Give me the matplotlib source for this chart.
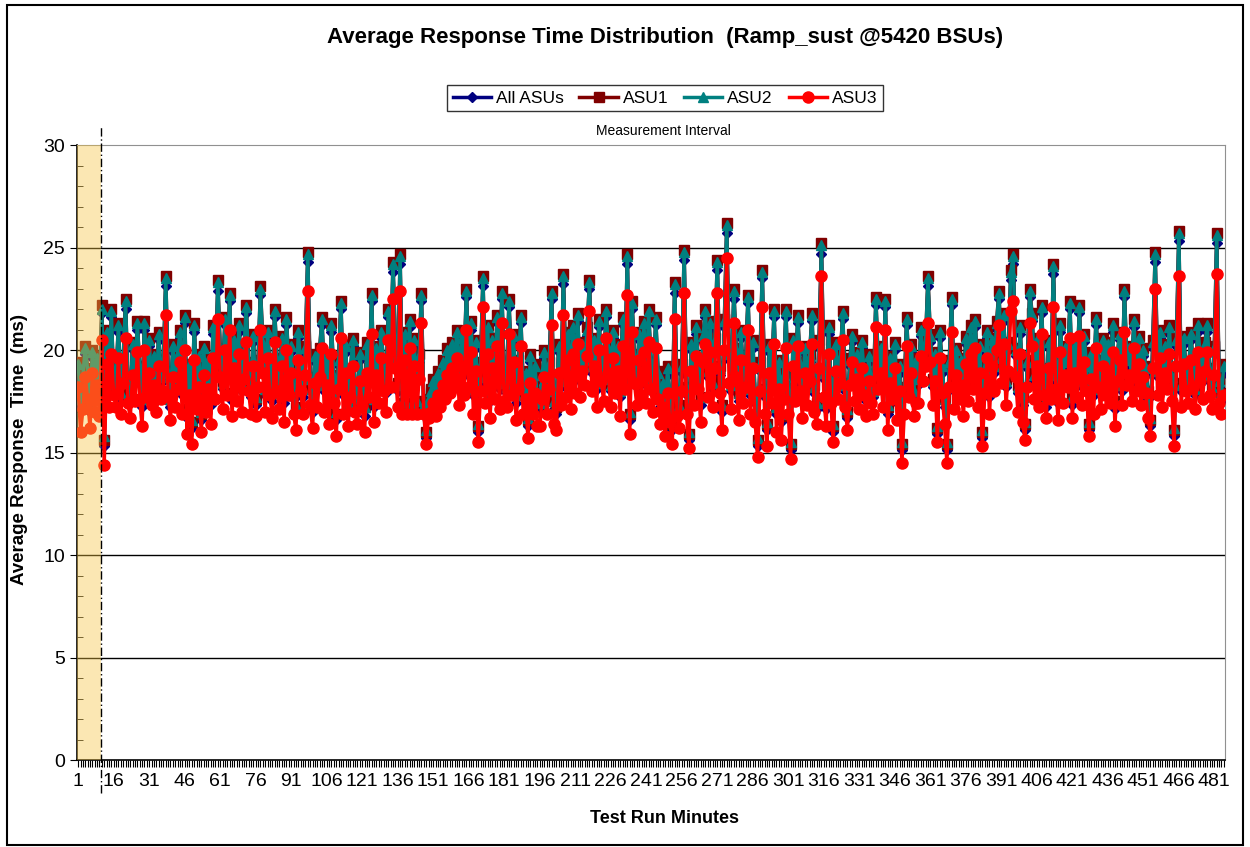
import numpy as np
import matplotlib
matplotlib.use("Agg")
import matplotlib.pyplot as plt
from matplotlib.patches import Rectangle

plt.rcParams['font.family'] = ['Liberation Sans', 'DejaVu Sans']

# ASU1 (dark red squares), one value per test-run minute
asu1 = [
    19.4, 17.6, 18.9, 20.2, 19.1, 17.3, 20.0, 18.6, 19.7, 18.1, 22.2, 15.6, 21.0, 18.4, 22.0,
    18.3, 18.8, 21.3, 17.9, 19.6, 22.5, 18.6, 17.8, 20.4, 18.9, 21.4, 19.2, 17.6, 21.4, 19.0,
    20.6, 18.4, 19.8, 17.9, 20.9, 18.8, 19.5, 23.6, 19.0, 17.6, 20.3, 18.5, 19.9, 21.0, 18.2,
    21.7, 17.1, 19.3, 16.5, 21.3, 18.6, 19.8, 16.9, 20.2, 18.3, 19.6, 17.7, 21.2, 19.1, 23.4,
    20.1, 18.5, 21.6, 19.2, 22.8, 17.9, 20.6, 19.0, 21.3, 18.4, 20.0, 22.2, 19.4, 18.1, 20.8,
    17.6, 19.5, 23.1, 20.4, 18.2, 21.0, 19.3, 17.9, 22.0, 19.6, 18.5, 20.7, 17.8, 21.6, 19.2,
    20.3, 18.0, 17.2, 21.0, 19.4, 18.1, 20.2, 24.8, 18.7, 17.3, 19.8, 18.6, 20.1, 21.6, 18.4,
    19.7, 17.5, 21.3, 18.8, 16.9, 19.6, 22.4, 18.2, 20.3, 17.4, 19.0, 20.6, 18.3, 17.6, 19.9,
    18.6, 17.2, 20.4, 19.1, 22.8, 17.6, 20.2, 18.9, 21.0, 19.4, 18.3, 22.0, 19.7, 24.3, 20.5,
    18.4, 24.7, 17.4, 20.9, 17.3, 21.5, 17.4, 20.6, 17.5, 19.8, 22.8, 17.3, 16.0, 17.6, 18.1,
    18.6, 17.9, 19.0, 18.4, 19.5, 18.9, 20.1, 19.3, 20.4, 19.7, 21.0, 18.6, 20.7, 19.2, 23.0,
    19.6, 21.4, 18.2, 20.5, 16.3, 19.4, 23.6, 18.8, 21.2, 17.9, 20.6, 19.0, 21.7, 18.5, 22.9,
    18.7, 18.3, 22.5, 19.2, 20.8, 17.8, 19.5, 21.7, 18.2, 19.0, 16.6, 19.8, 18.3, 19.3, 17.5,
    17.4, 18.9, 20.0, 18.1, 19.4, 22.9, 17.5, 17.2, 20.3, 18.6, 23.7, 19.0, 20.9, 18.4, 21.2,
    19.1, 21.8, 18.9, 20.4, 19.6, 21.1, 23.4, 19.3, 20.6, 18.5, 21.5, 19.8, 18.7, 22.0, 20.2,
    18.4, 21.0, 19.2, 20.3, 18.1, 21.6, 19.5, 24.7, 16.9, 22.4, 19.8, 18.6, 20.9, 19.1, 21.4,
    18.7, 22.0, 19.4, 18.3, 21.6, 19.0, 17.6, 18.5, 16.9, 19.2, 17.8, 16.4, 23.3, 18.0, 17.3,
    19.3, 24.9, 18.2, 15.9, 20.4, 18.6, 21.2, 19.5, 17.7, 20.8, 22.0, 19.1, 21.4, 18.5, 20.6,
    24.4, 19.2, 17.3, 21.5, 26.2, 19.9, 18.4, 23.0, 20.1, 17.9, 21.0, 18.8, 19.6, 22.7, 18.2,
    20.5, 17.8, 15.6, 19.4, 23.9, 18.1, 16.4, 20.3, 18.7, 22.0, 17.2, 19.5, 16.8, 18.9, 22.0,
    18.1, 15.4, 20.6, 18.8, 21.7, 19.4, 17.9, 20.2, 18.6, 19.8, 21.8, 18.3, 17.4, 20.5, 25.2,
    19.0, 17.5, 21.2, 18.6, 16.3, 20.4, 18.9, 19.7, 21.9, 18.4, 17.0, 19.6, 20.8, 18.7, 19.9,
    18.3, 20.5, 19.1, 17.9, 19.8, 18.6, 18.1, 22.6, 19.4, 20.2, 18.5, 22.5, 17.2, 19.7, 18.9,
    20.4, 17.8, 19.3, 15.4, 18.2, 21.6, 19.0, 20.3, 18.1, 19.6, 18.7, 21.1, 19.8, 20.5, 23.6,
    20.8, 18.6, 19.9, 16.2, 21.0, 19.3, 17.6, 15.4, 19.5, 22.6, 18.4, 20.1, 18.9, 19.6, 18.0,
    20.7, 18.8, 21.2, 19.4, 21.5, 18.5, 20.3, 16.0, 19.2, 21.0, 18.1, 20.6, 19.3, 21.4, 22.9,
    19.7, 21.8, 18.6, 20.4, 23.9, 24.7, 20.1, 18.3, 21.2, 17.7, 16.4, 19.5, 23.0, 21.8, 18.9,
    20.6, 18.4, 22.2, 19.1, 17.6, 20.5, 18.9, 24.2, 19.4, 17.8, 21.3, 18.7, 20.2, 19.5, 22.4,
    17.7, 20.3, 19.0, 22.2, 18.6, 20.8, 19.3, 16.4, 19.9, 18.2, 21.6, 19.5, 18.4, 20.6, 19.1,
    20.4, 18.7, 21.3, 17.5, 19.8, 20.9, 18.4, 23.0, 19.6, 20.2, 18.8, 21.5, 19.3, 20.7, 18.6,
    20.1, 19.2, 18.0, 16.6, 20.5, 24.8, 19.1, 21.0, 18.5, 20.3, 19.4, 21.2, 18.8, 16.1, 20.6,
    25.8, 18.4, 20.7, 19.3, 18.6, 20.9, 19.5, 18.2, 21.3, 19.8, 18.9, 20.4, 21.3, 19.1, 18.3,
    20.2, 25.7, 18.6, 17.9, 19.3,
]

# ASU2 (teal triangles)
asu2 = [
    19.3, 17.6, 18.8, 20.1, 19.0, 17.3, 19.9, 18.5, 19.6, 18.1, 22.0, 15.8, 20.9, 18.4, 21.9,
    18.2, 18.7, 21.2, 17.9, 19.5, 22.4, 18.5, 17.8, 20.3, 18.8, 21.3, 19.1, 17.6, 21.3, 18.9,
    20.5, 18.3, 19.7, 17.9, 20.8, 18.7, 19.4, 23.5, 18.9, 17.6, 20.2, 18.4, 19.8, 20.9, 18.1,
    21.6, 17.1, 19.2, 16.6, 21.2, 18.5, 19.7, 17.0, 20.1, 18.2, 19.5, 17.7, 21.1, 19.0, 23.3,
    20.0, 18.4, 21.5, 19.1, 22.7, 17.9, 20.5, 18.9, 21.2, 18.3, 19.9, 22.1, 19.3, 18.1, 20.7,
    17.7, 19.4, 23.0, 20.3, 18.1, 20.9, 19.2, 17.9, 21.9, 19.5, 18.4, 20.6, 17.8, 21.5, 19.1,
    20.2, 18.0, 17.3, 20.9, 19.3, 18.1, 20.1, 24.7, 18.6, 17.3, 19.7, 18.5, 20.0, 21.5, 18.3,
    19.6, 17.5, 21.2, 18.7, 17.0, 19.5, 22.3, 18.1, 20.2, 17.4, 18.9, 20.5, 18.2, 17.6, 19.8,
    18.5, 17.2, 20.3, 19.0, 22.7, 17.6, 20.1, 18.8, 20.9, 19.3, 18.2, 21.9, 19.6, 24.2, 20.4,
    18.3, 24.6, 17.4, 20.8, 17.3, 21.4, 17.4, 20.5, 17.5, 19.7, 22.7, 17.3, 16.1, 17.6, 18.0,
    18.5, 17.9, 18.9, 18.3, 19.4, 18.8, 20.0, 19.2, 20.3, 19.6, 20.9, 18.5, 20.6, 19.1, 22.9,
    19.5, 21.3, 18.1, 20.4, 16.4, 19.3, 23.5, 18.7, 21.1, 17.9, 20.5, 18.9, 21.6, 18.4, 22.8,
    18.6, 18.2, 22.4, 19.1, 20.7, 17.8, 19.4, 21.6, 18.1, 18.9, 16.7, 19.7, 18.2, 19.2, 17.5,
    17.4, 18.8, 19.9, 18.0, 19.3, 22.8, 17.5, 17.3, 20.2, 18.5, 23.6, 18.9, 20.8, 18.3, 21.1,
    19.0, 21.7, 18.8, 20.3, 19.5, 21.0, 23.3, 19.2, 20.5, 18.4, 21.4, 19.7, 18.6, 21.9, 20.1,
    18.3, 20.9, 19.1, 20.2, 18.0, 21.5, 19.4, 24.6, 17.0, 22.3, 19.7, 18.5, 20.8, 19.0, 21.3,
    18.6, 21.9, 19.3, 18.2, 21.5, 18.9, 17.6, 18.4, 17.0, 19.1, 17.8, 16.5, 23.2, 17.9, 17.3,
    19.2, 24.8, 18.1, 16.0, 20.3, 18.5, 21.1, 19.4, 17.7, 20.7, 21.9, 19.0, 21.3, 18.4, 20.5,
    24.3, 19.1, 17.3, 21.4, 26.1, 19.8, 18.3, 22.9, 20.0, 17.9, 20.9, 18.7, 19.5, 22.6, 18.1,
    20.4, 17.8, 15.7, 19.3, 23.8, 18.0, 16.5, 20.2, 18.6, 21.9, 17.2, 19.4, 16.9, 18.8, 21.9,
    18.0, 15.5, 20.5, 18.7, 21.6, 19.3, 17.9, 20.1, 18.5, 19.7, 21.7, 18.2, 17.4, 20.4, 25.1,
    18.9, 17.5, 21.1, 18.5, 16.4, 20.3, 18.8, 19.6, 21.8, 18.3, 17.1, 19.5, 20.7, 18.6, 19.8,
    18.2, 20.4, 19.0, 17.9, 19.7, 18.5, 18.0, 22.5, 19.3, 20.1, 18.4, 22.4, 17.3, 19.6, 18.8,
    20.3, 17.8, 19.2, 15.5, 18.1, 21.5, 18.9, 20.2, 18.0, 19.5, 18.6, 21.0, 19.7, 20.4, 23.5,
    20.7, 18.5, 19.8, 16.3, 20.9, 19.2, 17.6, 15.5, 19.4, 22.5, 18.3, 20.0, 18.8, 19.5, 17.9,
    20.6, 18.7, 21.1, 19.3, 21.4, 18.4, 20.2, 16.1, 19.1, 20.9, 18.0, 20.5, 19.2, 21.3, 22.8,
    19.6, 21.7, 18.5, 20.3, 23.8, 24.6, 20.0, 18.2, 21.1, 17.7, 16.5, 19.4, 22.9, 21.7, 18.8,
    20.5, 18.3, 22.1, 19.0, 17.6, 20.4, 18.8, 24.1, 19.3, 17.8, 21.2, 18.6, 20.1, 19.4, 22.3,
    17.7, 20.2, 18.9, 22.1, 18.5, 20.7, 19.2, 16.5, 19.8, 18.1, 21.5, 19.4, 18.3, 20.5, 19.0,
    20.3, 18.6, 21.2, 17.5, 19.7, 20.8, 18.3, 22.9, 19.5, 20.1, 18.7, 21.4, 19.2, 20.6, 18.5,
    20.0, 19.1, 17.9, 16.7, 20.4, 24.7, 19.0, 20.9, 18.4, 20.2, 19.3, 21.1, 18.7, 16.2, 20.5,
    25.7, 18.3, 20.6, 19.2, 18.5, 20.8, 19.4, 18.1, 21.2, 19.7, 18.8, 20.3, 21.2, 19.0, 18.2,
    20.1, 25.6, 18.5, 17.9, 19.2,
]

# All ASUs (navy diamonds)
all_asus = [
    19.0, 17.2, 18.5, 19.8, 18.7, 17.0, 19.6, 18.2, 19.3, 17.8, 21.8, 15.3, 20.6, 18.0, 21.6,
    18.0, 18.4, 20.9, 17.6, 19.2, 22.0, 18.2, 17.4, 20.0, 18.5, 21.0, 18.8, 17.2, 21.0, 18.6,
    20.2, 18.0, 19.4, 17.5, 20.5, 18.4, 19.1, 23.1, 18.6, 17.2, 19.9, 18.1, 19.5, 20.6, 17.8,
    21.3, 16.7, 18.9, 16.2, 20.9, 18.2, 19.4, 16.6, 19.8, 17.9, 19.2, 17.3, 20.8, 18.7, 22.9,
    19.7, 18.1, 21.2, 18.8, 22.4, 17.5, 20.2, 18.6, 20.9, 18.0, 19.6, 21.8, 19.0, 17.7, 20.4,
    17.3, 19.1, 22.7, 20.0, 17.8, 20.6, 18.9, 17.5, 21.6, 19.2, 18.1, 20.3, 17.4, 21.2, 18.8,
    19.9, 17.6, 16.9, 20.6, 19.0, 17.7, 19.8, 24.3, 18.3, 17.0, 19.4, 18.2, 19.7, 21.2, 18.0,
    19.3, 17.1, 20.9, 18.4, 16.6, 19.2, 22.0, 17.8, 19.9, 17.0, 18.6, 20.2, 17.9, 17.2, 19.5,
    18.2, 16.8, 20.0, 18.7, 22.4, 17.2, 19.8, 18.5, 20.6, 19.0, 17.9, 21.6, 19.3, 23.8, 20.1,
    18.0, 24.2, 17.1, 20.5, 17.0, 21.1, 17.1, 20.2, 17.2, 19.4, 22.4, 17.0, 15.7, 17.3, 17.8,
    18.2, 17.5, 18.6, 18.0, 19.1, 18.5, 19.7, 18.9, 20.0, 19.3, 20.6, 18.2, 20.3, 18.8, 22.6,
    19.2, 21.0, 17.8, 20.1, 16.0, 19.0, 23.1, 18.4, 20.8, 17.5, 20.2, 18.6, 21.3, 18.1, 22.5,
    18.3, 17.9, 22.1, 18.8, 20.4, 17.4, 19.1, 21.3, 17.8, 18.6, 16.3, 19.4, 17.9, 18.9, 17.2,
    17.1, 18.5, 19.6, 17.7, 19.0, 22.5, 17.1, 16.9, 19.9, 18.2, 23.2, 18.6, 20.5, 18.0, 20.8,
    18.7, 21.4, 18.5, 20.0, 19.2, 20.7, 23.0, 18.9, 20.2, 18.1, 21.1, 19.4, 18.3, 21.6, 19.8,
    18.0, 20.6, 18.8, 19.9, 17.7, 21.2, 19.1, 24.2, 16.6, 22.0, 19.4, 18.2, 20.5, 18.7, 21.0,
    18.3, 21.6, 19.0, 17.9, 21.2, 18.6, 17.2, 18.1, 16.6, 18.8, 17.4, 16.1, 22.8, 17.6, 17.0,
    18.9, 24.4, 17.8, 15.6, 20.0, 18.2, 20.8, 19.1, 17.3, 20.4, 21.6, 18.7, 21.0, 18.1, 20.2,
    23.9, 18.8, 17.0, 21.1, 25.7, 19.5, 18.0, 22.5, 19.7, 17.5, 20.6, 18.4, 19.2, 22.3, 17.8,
    20.1, 17.4, 15.3, 19.0, 23.5, 17.7, 16.1, 19.9, 18.3, 21.6, 16.9, 19.1, 16.5, 18.5, 21.6,
    17.7, 15.1, 20.2, 18.4, 21.3, 19.0, 17.5, 19.8, 18.2, 19.4, 21.4, 17.9, 17.1, 20.1, 24.7,
    18.6, 17.1, 20.8, 18.2, 16.0, 20.0, 18.5, 19.3, 21.5, 18.0, 16.7, 19.2, 20.4, 18.3, 19.5,
    17.9, 20.1, 18.7, 17.5, 19.4, 18.2, 17.7, 22.2, 19.0, 19.8, 18.1, 22.1, 16.9, 19.3, 18.5,
    20.0, 17.4, 18.9, 15.1, 17.8, 21.2, 18.6, 19.9, 17.7, 19.2, 18.3, 20.7, 19.4, 20.1, 23.1,
    20.4, 18.2, 19.5, 15.9, 20.6, 18.9, 17.2, 15.1, 19.1, 22.2, 18.0, 19.7, 18.5, 19.2, 17.6,
    20.3, 18.4, 20.8, 19.0, 21.1, 18.1, 19.9, 15.7, 18.8, 20.6, 17.7, 20.2, 18.9, 21.0, 22.5,
    19.3, 21.4, 18.2, 20.0, 23.4, 24.2, 19.7, 17.9, 20.8, 17.3, 16.1, 19.1, 22.6, 21.4, 18.5,
    20.2, 18.0, 21.8, 18.7, 17.2, 20.1, 18.5, 23.7, 19.0, 17.4, 20.9, 18.3, 19.8, 19.1, 22.0,
    17.3, 19.9, 18.6, 21.8, 18.2, 20.4, 18.9, 16.1, 19.5, 17.8, 21.2, 19.1, 18.0, 20.2, 18.7,
    20.0, 18.3, 20.9, 17.1, 19.4, 20.5, 18.0, 22.6, 19.2, 19.8, 18.4, 21.1, 18.9, 20.3, 18.2,
    19.7, 18.8, 17.6, 16.3, 20.1, 24.3, 18.7, 20.6, 18.1, 19.9, 19.0, 20.8, 18.4, 15.8, 20.2,
    25.3, 18.0, 20.3, 18.9, 18.2, 20.5, 19.1, 17.8, 20.9, 19.4, 18.5, 20.0, 20.9, 18.7, 17.9,
    19.8, 25.2, 18.2, 17.5, 18.9,
]

# ASU3 (red circles)
asu3 = [
    18.2, 16.0, 17.1, 18.7, 17.6, 16.2, 18.9, 17.0, 18.3, 16.8, 20.5, 14.4, 19.3, 17.2, 19.8,
    17.8, 17.2, 19.6, 16.9, 18.4, 20.6, 17.4, 16.7, 18.8, 17.5, 19.9, 17.6, 16.3, 20.0, 17.7,
    18.9, 17.3, 18.3, 17.0, 19.2, 17.6, 18.0, 21.7, 17.8, 16.6, 18.7, 17.2, 18.1, 19.4, 16.9,
    20.0, 15.9, 17.8, 15.4, 19.5, 17.1, 18.2, 16.0, 18.8, 17.0, 18.1, 16.4, 19.6, 17.6, 21.5,
    18.7, 17.1, 20.0, 17.8, 21.0, 16.8, 19.1, 17.5, 19.8, 17.0, 18.6, 20.4, 18.0, 16.9, 19.2,
    16.8, 18.2, 21.0, 18.9, 17.0, 19.6, 17.8, 16.7, 20.4, 18.0, 17.1, 19.2, 16.5, 20.0, 17.8,
    18.9, 16.9, 16.1, 19.5, 18.0, 16.9, 18.8, 22.9, 17.3, 16.2, 18.4, 17.2, 18.7, 20.1, 17.0,
    18.3, 16.4, 19.8, 17.4, 15.8, 18.1, 20.6, 16.9, 18.9, 16.3, 17.7, 19.2, 17.0, 16.4, 18.5,
    17.3, 16.0, 18.9, 17.7, 20.8, 16.5, 18.8, 17.4, 19.6, 18.0, 17.0, 20.5, 18.2, 22.5, 19.1,
    17.2, 22.9, 16.9, 19.5, 16.9, 20.1, 16.9, 19.2, 16.9, 18.6, 21.3, 16.9, 15.4, 16.7, 17.0,
    17.4, 16.8, 17.8, 17.2, 18.3, 17.6, 18.8, 17.9, 19.1, 18.2, 19.6, 17.3, 19.2, 17.8, 21.0,
    18.2, 19.9, 16.9, 19.0, 15.5, 18.0, 22.1, 17.4, 19.8, 16.7, 19.1, 17.6, 20.2, 17.1, 21.3,
    17.5, 17.2, 20.8, 17.8, 19.4, 16.6, 18.1, 20.2, 16.9, 17.6, 15.7, 18.4, 16.9, 17.9, 16.3,
    16.3, 17.6, 18.7, 16.9, 18.1, 21.2, 16.4, 16.1, 18.9, 17.3, 21.7, 17.7, 19.5, 17.1, 19.8,
    17.9, 20.3, 17.7, 19.0, 18.3, 19.7, 21.9, 18.0, 19.2, 17.2, 20.0, 18.5, 17.5, 20.6, 18.9,
    17.2, 19.6, 17.9, 19.0, 16.8, 20.2, 18.1, 22.7, 15.9, 20.9, 18.4, 17.3, 19.5, 17.8, 19.9,
    17.4, 20.4, 18.1, 17.0, 20.1, 17.6, 16.4, 17.2, 15.8, 17.9, 16.5, 15.4, 21.5, 16.8, 16.2,
    18.0, 22.8, 16.9, 15.2, 19.0, 17.3, 19.7, 18.1, 16.5, 19.4, 20.3, 17.7, 19.9, 17.2, 19.1,
    22.8, 17.9, 16.1, 20.0, 24.5, 18.4, 17.1, 21.3, 18.7, 16.6, 19.5, 17.4, 18.2, 21.0, 16.9,
    19.1, 16.5, 14.8, 18.0, 22.1, 16.9, 15.3, 18.9, 17.4, 20.3, 16.0, 18.1, 15.6, 17.6, 20.1,
    16.9, 14.7, 19.2, 17.5, 20.2, 18.0, 16.7, 18.9, 17.3, 18.5, 20.3, 17.0, 16.4, 19.1, 23.6,
    17.7, 16.3, 19.8, 17.4, 15.5, 19.0, 17.6, 18.4, 20.5, 17.2, 16.1, 18.3, 19.4, 17.5, 18.6,
    17.1, 19.1, 17.8, 16.8, 18.5, 17.4, 16.9, 21.1, 18.1, 18.9, 17.2, 21.0, 16.1, 18.4, 17.6,
    19.1, 16.6, 18.0, 14.5, 16.9, 20.2, 17.7, 18.9, 16.8, 17.4, 17.4, 19.7, 18.5, 19.2, 21.3,
    19.4, 17.3, 18.5, 15.5, 19.6, 17.9, 16.4, 14.5, 18.2, 20.9, 17.1, 18.8, 17.6, 18.3, 16.8,
    19.3, 17.5, 19.8, 18.1, 20.1, 17.2, 18.9, 15.3, 17.9, 19.6, 16.9, 19.2, 18.0, 20.0, 21.2,
    18.4, 20.3, 17.3, 19.0, 21.9, 22.4, 18.7, 17.0, 19.8, 16.5, 15.6, 18.2, 21.3, 20.2, 17.6,
    19.2, 17.2, 20.8, 17.8, 16.7, 19.1, 17.6, 22.1, 18.1, 16.6, 19.9, 17.4, 18.8, 18.2, 20.6,
    16.7, 18.9, 17.7, 20.7, 17.3, 19.4, 18.0, 15.8, 18.6, 16.9, 20.1, 18.2, 17.1, 19.2, 17.8,
    19.0, 17.4, 19.9, 16.3, 18.5, 19.5, 17.3, 20.9, 18.3, 18.8, 17.5, 20.1, 18.0, 19.3, 17.3,
    18.7, 17.9, 16.7, 15.8, 19.1, 23.0, 17.8, 19.6, 17.2, 18.9, 18.1, 19.8, 17.5, 15.3, 19.2,
    23.6, 17.2, 19.3, 18.0, 17.4, 19.5, 18.2, 17.1, 19.9, 18.5, 17.6, 19.0, 19.9, 17.8, 17.1,
    18.8, 23.7, 17.4, 16.9, 17.8,
]

minutes = np.arange(1, len(asu1) + 1)
tick_minutes = list(range(1, 482, 15))
ramp_end = 10.5

fig = plt.figure(figsize=(12.5, 8.47), dpi=100)
ax = fig.add_axes([0.0616, 0.1027, 0.9184, 0.7261])

for v in [5, 10, 15, 20, 25]:
    ax.axhline(v, color='black', lw=1, zorder=1)

series = [
    (all_asus, 'All ASUs', '#000080', 'D', 5),
    (asu1, 'ASU1', '#800000', 's', 6.5),
    (asu2, 'ASU2', '#008080', '^', 7.5),
    (asu3, 'ASU3', '#ff0000', 'o', 8),
]
for vals, name, col, mk, ms in series:
    ax.plot(minutes, vals, color=col, lw=2.5, marker=mk, markersize=ms,
            markeredgecolor=col, markerfacecolor=col, label=name, zorder=3)

# ramp-up period, tinted over the lines
ax.axvspan(0.5, ramp_end, color='#f5c543', alpha=0.4, lw=0, zorder=5)

ax.plot([ramp_end, ramp_end], [-1.6, 31.0], color='black', lw=1,
        linestyle=(0, (6, 2, 1, 2)), clip_on=False, zorder=6)

ax.set_xlim(0.5, len(asu1) + 0.5)
ax.set_ylim(0, 30)
ax.set_yticks([0, 5, 10, 15, 20, 25, 30])
ax.set_yticks(np.arange(0, 31, 1), minor=True)
ax.set_xticks(tick_minutes)
ax.set_xticklabels([str(t) for t in tick_minutes])
ax.set_xticks(minutes, minor=True)
ax.tick_params(axis='x', which='major', direction='out', length=5, labelsize=14, pad=4)
ax.tick_params(axis='x', which='minor', direction='out', length=5, width=0.8)
ax.tick_params(axis='y', which='major', direction='out', length=5, labelsize=14)
ax.tick_params(axis='y', which='minor', direction='in', length=4)
for s in ['top', 'right']:
    ax.spines[s].set_color('#909090')
for s in ['left', 'bottom']:
    ax.spines[s].set_color('black')
    ax.spines[s].set_linewidth(1.2)

fig.text(0.532, 0.956, 'Average Response Time Distribution  (Ramp_sust @5420 BSUs)',
         ha='center', va='center', fontsize=16, fontweight='bold')
fig.text(0.5304, 0.8453, 'Measurement Interval', ha='center', va='center', fontsize=10)
fig.text(0.016, 0.469, 'Average Response  Time  (ms)', rotation=90, ha='center',
         va='center', fontsize=13.5, fontweight='bold')
fig.text(0.532, 0.034, 'Test Run Minutes', ha='center', va='center',
         fontsize=13, fontweight='bold')

leg = fig.legend(loc='center', bbox_to_anchor=(0.532, 0.884), ncol=4, fontsize=12.5,
                 frameon=True, fancybox=False, edgecolor='black', handlelength=2.2,
                 columnspacing=0.9, handletextpad=0.3, borderpad=0.3)
leg.get_frame().set_linewidth(1.0)

fig.patches.append(Rectangle((0.0056, 0.002), 0.989, 0.992, transform=fig.transFigure,
                             fill=False, edgecolor='black', lw=1.5))

fig.savefig('out.png', dpi=100)
